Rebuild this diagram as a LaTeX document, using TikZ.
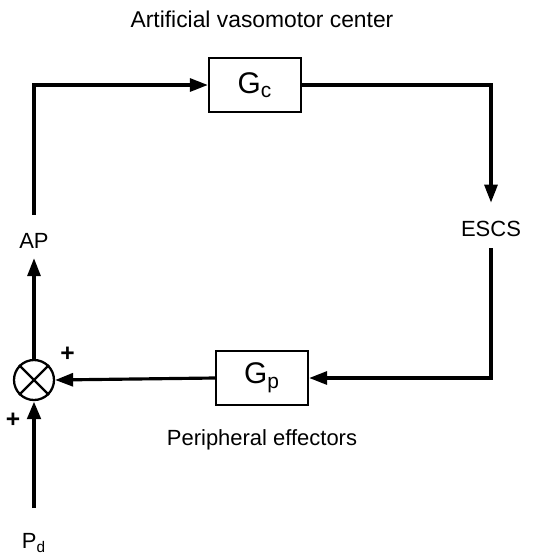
\documentclass[tikz,border=0pt]{standalone}
\usepackage{fontspec}
\setmainfont{Liberation Sans}
\usetikzlibrary{arrows.meta,positioning,calc}

\begin{document}
\begin{tikzpicture}[
    node distance=0.5cm,
    block/.style={draw, line width=1.3pt, minimum width=1.84cm, minimum height=1.08cm, font=\fontsize{17}{19}\selectfont},
    sumnode/.style={draw, circle, line width=1.3pt, minimum size=0.8cm, inner sep=0pt},
    lbl/.style={font=\fontsize{12.5}{14}\selectfont, inner sep=1pt},
    sgn/.style={font=\fontsize{14}{16}\selectfont\bfseries, inner sep=0pt},
    arrow/.style={-{Triangle[length=3.6mm,width=2.6mm]}, line width=1.8pt},
    line/.style={line width=1.8pt}
]
\useasboundingbox (0,0) rectangle (10.64,-11.16);

\node[block] (gc) at (5.10,-1.70) {G\textsubscript{c}};
\node[block] (gp) at (5.24,-7.56) {G\textsubscript{p}};
\node[sumnode] (sum) at (0.68,-7.60) {};
\draw[line width=1.3pt] (sum.north west) -- (sum.south east) (sum.north east) -- (sum.south west);

\node[lbl, above=0.55cm of gc, xshift=0.14cm, font=\fontsize{13}{15}\selectfont] (vmc) {Artificial vasomotor center};
\node[lbl, below=0.42cm of gp] (pe) {Peripheral effectors};
\node[lbl] (escs) at (9.82,-4.58) {ESCS};
\node[lbl] (ap) at (0.68,-4.82) {AP};
\node[lbl] (pd) at (0.68,-10.86) {P\textsubscript{d}};
\node[sgn, above right=0.06cm and 0.22cm of sum] (plus1) {+};
\node[sgn] (plus2) at ($(sum.center)+(-0.42,-0.80)$) {+};

\coordinate (tl) at (ap |- gc);
\coordinate (tr) at (escs |- gc);
\coordinate (br) at (escs |- gp);
\coordinate (pin) at (0.68,-10.16);

% loop
\draw[arrow] ([yshift=0.33cm]ap.north) -- (tl) -- (gc.west);
\draw[arrow] (gc.east) -- (tr) -- ([yshift=0.33cm]escs.north);
\draw[arrow] ([yshift=-0.19cm]escs.south) -- (br) -- (gp.east);
\draw[arrow] (gp.west) -- (sum.east);
\draw[arrow] (sum.north) -- ([yshift=-0.15cm]ap.south);
\draw[arrow, line width=2.8pt] (pin) -- (sum.south);
\end{tikzpicture}
\end{document}
